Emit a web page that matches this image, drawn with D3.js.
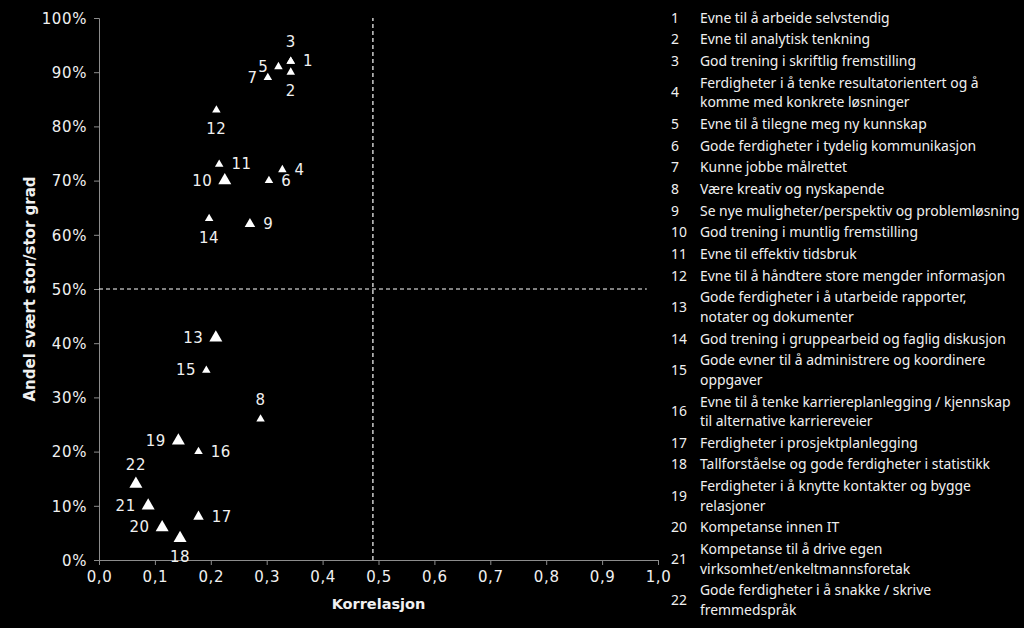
<!DOCTYPE html>
<html>
<head>
<meta charset="utf-8">
<script src="https://cdn.jsdelivr.net/npm/d3@7"></script>
<style>
  html, body { margin: 0; padding: 0; background: #000; }
  svg { display: block; }
  .vfont { font-family: 'DejaVu Sans', Verdana, sans-serif; }
</style>
</head>
<body>
<svg id="chart"></svg>
<script>
const size = {w: 1024, h: 628};
const plot = {l: 99, r: 658, t: 18, b: 560};

// DATA
const pointIds = [1, 2, 3, 4, 5, 6, 7, 8, 9, 10, 11, 12, 13, 14, 15, 16, 17, 18, 19, 20, 21, 22];
const correlation = [0.343, 0.343, 0.343, 0.328, 0.321, 0.304, 0.302, 0.289, 0.270, 0.225, 0.215,
    0.210, 0.209, 0.197, 0.192, 0.178, 0.178, 0.145, 0.142, 0.113, 0.088, 0.066];
const share = [0.92, 0.90, 0.92, 0.72, 0.91, 0.70, 0.89, 0.26, 0.62, 0.70, 0.73,
    0.83, 0.41, 0.63, 0.35, 0.20, 0.08, 0.04, 0.22, 0.06, 0.10, 0.14];
const markerGroup = ['s', 's', 's', 's', 's', 's', 's', 's', 'm', 'l', 's',
    's', 'l', 's', 's', 's', 'm', 'l', 'l', 'l', 'l', 'l'];
const refCorrelation = 0.49;
const refShare = 0.5;
const xTicks = [0, 0.1, 0.2, 0.3, 0.4, 0.5, 0.6, 0.7, 0.8, 0.9, 1.0];
const yTicks = [0, 0.1, 0.2, 0.3, 0.4, 0.5, 0.6, 0.7, 0.8, 0.9, 1.0];
const legendLabels = [
    ['Evne til å arbeide selvstendig'],
    ['Evne til analytisk tenkning'],
    ['God trening i skriftlig fremstilling'],
    ['Ferdigheter i å tenke resultatorientert og å', 'komme med konkrete løsninger'],
    ['Evne til å tilegne meg ny kunnskap'],
    ['Gode ferdigheter i tydelig kommunikasjon'],
    ['Kunne jobbe målrettet'],
    ['Være kreativ og nyskapende'],
    ['Se nye muligheter/perspektiv og problemløsning'],
    ['God trening i muntlig fremstilling'],
    ['Evne til effektiv tidsbruk'],
    ['Evne til å håndtere store mengder informasjon'],
    ['Gode ferdigheter i å utarbeide rapporter,', 'notater og dokumenter'],
    ['God trening i gruppearbeid og faglig diskusjon'],
    ['Gode evner til å administrere og koordinere', 'oppgaver'],
    ['Evne til å tenke karriereplanlegging / kjennskap', 'til alternative karriereveier'],
    ['Ferdigheter i prosjektplanlegging'],
    ['Tallforståelse og gode ferdigheter i statistikk'],
    ['Ferdigheter i å knytte kontakter og bygge', 'relasjoner'],
    ['Kompetanse innen IT'],
    ['Kompetanse til å drive egen', 'virksomhet/enkeltmannsforetak'],
    ['Gode ferdigheter i å snakke / skrive', 'fremmedspråk']
];

// label placement per point (layout, not data)
const labelSide = {1: 'right', 2: 'below', 3: 'above', 4: 'right', 5: 'left', 6: 'right', 7: 'left',
    8: 'above', 9: 'right', 10: 'left', 11: 'right', 12: 'below', 13: 'left', 14: 'below',
    15: 'left', 16: 'right', 17: 'right', 18: 'below', 19: 'left', 20: 'left', 21: 'left', 22: 'above'};
const sideLen = {s: 8.5, m: 10.5, l: 13};

const points = pointIds.map((id, i) => ({id, x: correlation[i], y: share[i], g: markerGroup[i]}));

const svg = d3.select('svg#chart')
    .attr('width', size.w)
    .attr('height', size.h);

svg.append('rect').attr('width', size.w).attr('height', size.h).attr('fill', '#000');

const x = d3.scaleLinear().domain([0, 1]).range([plot.l, plot.r]);
const y = d3.scaleLinear().domain([0, 1]).range([plot.b, plot.t]);

const fmtX = d => d.toFixed(1).replace('.', ',');
const fmtY = d => Math.round(d * 100) + '%';

//AXES
const xAxis = svg.append('g')
    .attr('transform', `translate(0, ${plot.b})`)
    .call(d3.axisBottom(x).tickValues(xTicks).tickFormat(fmtX).tickSize(5).tickPadding(6));

const yAxis = svg.append('g')
    .attr('transform', `translate(${plot.l}, 0)`)
    .call(d3.axisLeft(y).tickValues(yTicks).tickFormat(fmtY).tickSize(5).tickPadding(7));

[xAxis, yAxis].forEach(a => {
    a.attr('font-family', null).attr('font-size', null);
    a.select('.domain').attr('stroke', '#8c8c8c');
    a.selectAll('.tick line').attr('stroke', '#8c8c8c');
    a.selectAll('.tick text')
        .classed('vfont', true)
        .attr('fill', '#f0f0f0')
        .style('font-size', '15px')
        .style('letter-spacing', '0.6px');
});
yAxis.selectAll('.tick text').attr('dy', '0.35em');

//REFERENCE LINES
svg.append('line')
    .attr('x1', x(refCorrelation)).attr('x2', x(refCorrelation))
    .attr('y1', y(0)).attr('y2', y(1))
    .attr('stroke', '#fff').attr('stroke-width', 1.2)
    .attr('stroke-dasharray', '4,3');

svg.append('line')
    .attr('x1', x(0)).attr('x2', x(0.98))
    .attr('y1', y(refShare)).attr('y2', y(refShare))
    .attr('stroke', '#fff').attr('stroke-width', 1.2)
    .attr('stroke-dasharray', '4,3');

//MARKERS
const triArea = s => Math.sqrt(3) / 4 * s * s;
svg.append('g')
    .selectAll('path')
    .data(points)
    .join('path')
    .attr('transform', d => `translate(${x(d.x)}, ${y(d.y)})`)
    .attr('d', d => d3.symbol(d3.symbolTriangle, triArea(sideLen[d.g]))())
    .attr('fill', '#fff');

//DATA LABELS
svg.append('g')
    .selectAll('text')
    .data(points)
    .join('text')
    .classed('vfont', true)
    .attr('x', d => {
        const r = sideLen[d.g] / 2;
        const side = labelSide[d.id];
        if (side === 'right') return x(d.x) + r + 8;
        if (side === 'left') return x(d.x) - r - 6;
        return x(d.x);
    })
    .attr('y', d => {
        const side = labelSide[d.id];
        if (side === 'above') return y(d.y) - 19;
        if (side === 'below') return y(d.y) + 19;
        return y(d.y);
    })
    .attr('text-anchor', d => {
        const side = labelSide[d.id];
        if (side === 'right') return 'start';
        if (side === 'left') return 'end';
        return 'middle';
    })
    .attr('dominant-baseline', 'central')
    .attr('fill', '#f0f0f0')
    .style('font-size', '15px')
    .style('letter-spacing', '0.5px')
    .text(d => d.id);

//AXIS TITLES
svg.append('text')
    .classed('vfont', true)
    .attr('x', x(0.5))
    .attr('y', 609)
    .attr('text-anchor', 'middle')
    .attr('fill', '#f0f0f0')
    .style('font-weight', 'bold')
    .style('font-size', '14.5px')
    .text('Korrelasjon');

svg.append('text')
    .classed('vfont', true)
    .attr('transform', `translate(35, ${y(0.5)}) rotate(-90)`)
    .attr('text-anchor', 'middle')
    .attr('fill', '#f0f0f0')
    .style('font-weight', 'bold')
    .style('font-size', '15px')
    .text('Andel svært stor/stor grad');

//LEGEND
const legend = svg.append('g')
    .style('font-family', "'Noto Sans', 'Open Sans', sans-serif")
    .style('font-size', '13px')
    .attr('fill', '#f0f0f0');

let rowY = 17;
const rowGap = 21.7, lineGap = 19.5;
legendLabels.forEach((lines, i) => {
    const item = legend.append('g');
    item.append('text')
        .attr('x', 671)
        .attr('y', rowY + (lines.length - 1) * lineGap / 2)
        .attr('dominant-baseline', 'central')
        .text(pointIds[i]);
    lines.forEach((ln, k) => {
        item.append('text')
            .classed('legend-line', true)
            .attr('x', 700)
            .attr('y', rowY + k * lineGap)
            .attr('dominant-baseline', 'central')
            .text(ln);
    });
    rowY += rowGap + (lines.length - 1) * lineGap;
});

// fit legend font so the longest line ends where it does in the chart
let longest = 0;
legend.selectAll('.legend-line').each(function() {
    longest = Math.max(longest, this.getComputedTextLength());
});
legend.style('font-size', (13 * 320 / longest) + 'px');
</script>
</body>
</html>
